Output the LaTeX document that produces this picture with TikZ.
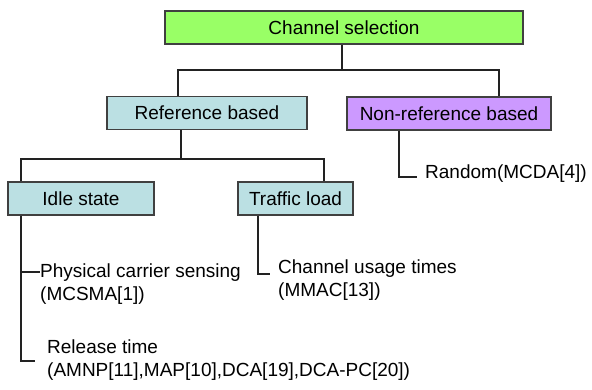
\documentclass[tikz,border=0pt]{standalone}
\usepackage{fontspec}
\setmainfont{Liberation Sans}
\definecolor{cgreen}{HTML}{99FF66}
\definecolor{cteal}{HTML}{BBE0E3}
\definecolor{cpurple}{HTML}{CC99FF}
\definecolor{cline}{HTML}{222222}
\begin{document}
\begin{tikzpicture}[x=1pt,y=-1pt,
  box/.style={draw=black!75,line width=1.1pt,inner sep=0pt,font=\fontsize{19}{23}\selectfont},
  conn/.style={draw=cline,line width=1.6pt},
  thinconn/.style={draw=cline,line width=1.1pt},
  leaf/.style={inner sep=0pt,anchor=north west,align=left,font=\fontsize{19}{23}\selectfont}]
\useasboundingbox (0,0) rectangle (592,390);
% boxes
\node[box,fill=cgreen,minimum width=358pt,minimum height=33pt] (cs) at (344,27.5) {Channel selection};
\node[box,fill=cteal,minimum width=200pt,minimum height=33pt] (rb) at (207,113) {Reference based};
\node[box,fill=cpurple,minimum width=204pt,minimum height=33pt] (nrb) at (449,113.5) {Non-reference based};
\node[box,fill=cteal,minimum width=146pt,minimum height=33pt] (idle) at (81,198.5) {Idle state};
\node[box,fill=cteal,minimum width=115pt,minimum height=33pt] (tl) at (295.5,198.5) {Traffic load};
% leaves
\node[leaf] (rand) at (425,165) {Random(MCDA[4])};
\node[leaf] (phys) at (40,264) {Physical carrier sensing\\(MCSMA[1])};
\node[leaf] (cut) at (278,259.5) {Channel usage times\\(MMAC[13])};
\node[leaf] (rel) at (47,340) {Release time\\(AMNP[11],MAP[10],DCA[19],DCA-PC[20])};
% bus coordinates
\coordinate (b1m) at (342,70);
\coordinate (b1l) at (178,70);
\coordinate (b1r) at (499,70);
\coordinate (b2m) at (181,159);
\coordinate (b2l) at (21,159);
\coordinate (b2r) at (324,159);
\coordinate (iv) at (21,361);
\coordinate (ivend) at (35,361);
\coordinate (ibr) at (21,272);
\coordinate (tv) at (258,274);
\coordinate (tvend) at (270,274);
\coordinate (nv) at (399,177);
\coordinate (nvend) at (417,177);
% connectors
\draw[conn] (cs.south -| b1m) -- (b1m);
\draw[conn] (b1l |- rb.north) -- (b1l) -- (b1r) -- (b1r |- nrb.north);
\draw[conn] (rb.south -| b2m) -- (b2m);
\draw[conn] (b2l |- idle.north) -- (b2l) -- (b2r) -- (b2r |- tl.north);
\draw[conn] (idle.south -| iv) -- (iv) -- (ivend);
\draw[thinconn] (ibr) -- (phys.west |- ibr);
\draw[thinconn] (tl.south -| tv) -- (tv) -- (tvend);
\draw[thinconn] (nrb.south -| nv) -- (nv) -- (nvend);
\end{tikzpicture}
\end{document}
